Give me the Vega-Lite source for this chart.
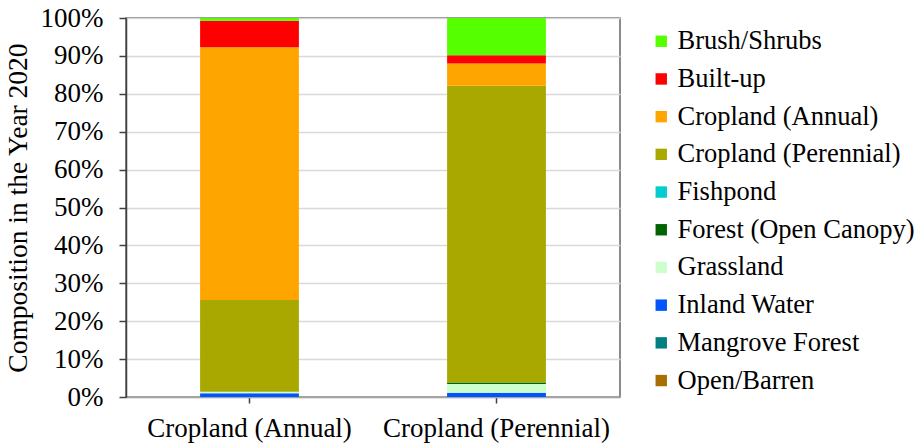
{
  "$schema": "https://vega.github.io/schema/vega-lite/v6.json",
  "autosize": "none",
  "width": 494,
  "height": 379,
  "padding": {"left": 126, "top": 18, "right": 302, "bottom": 48},
  "background": "white",
  "config": {
    "font": "'Liberation Serif', 'Times New Roman', serif",
    "axis": {"labelFont": "'Liberation Serif', 'Times New Roman', serif", "titleFont": "'Liberation Serif', 'Times New Roman', serif"},
    "legend": {"labelFont": "'Liberation Serif', 'Times New Roman', serif"},
    "view": {"stroke": "#666666", "strokeWidth": 1.5}
  },
  "data": {
    "values": [
      {"lu": "Cropland (Annual)", "type": "Inland Water", "pct": 1.0},
      {"lu": "Cropland (Annual)", "type": "Grassland", "pct": 0.4},
      {"lu": "Cropland (Annual)", "type": "Cropland (Perennial)", "pct": 24.2},
      {"lu": "Cropland (Annual)", "type": "Cropland (Annual)", "pct": 66.7},
      {"lu": "Cropland (Annual)", "type": "Built-up", "pct": 7.0},
      {"lu": "Cropland (Annual)", "type": "Brush/Shrubs", "pct": 0.7},
      {"lu": "Cropland (Perennial)", "type": "Inland Water", "pct": 1.1},
      {"lu": "Cropland (Perennial)", "type": "Grassland", "pct": 2.3},
      {"lu": "Cropland (Perennial)", "type": "Forest (Open Canopy)", "pct": 0.4},
      {"lu": "Cropland (Perennial)", "type": "Cropland (Perennial)", "pct": 78.3},
      {"lu": "Cropland (Perennial)", "type": "Cropland (Annual)", "pct": 5.9},
      {"lu": "Cropland (Perennial)", "type": "Built-up", "pct": 2.2},
      {"lu": "Cropland (Perennial)", "type": "Brush/Shrubs", "pct": 9.8}
    ]
  },
  "mark": {"type": "bar", "width": {"band": 0.4}},
  "encoding": {
    "x": {
      "field": "lu", "type": "nominal",
      "scale": {"paddingInner": 0, "paddingOuter": 0},
      "axis": {
        "title": null, "labelAngle": 0, "labelFontSize": 27, "labelColor": "#000000", "labelLimit": 400,
        "labelPadding": 12, "domainColor": "#a6a6a6", "domainWidth": 1.5,
        "tickColor": "#404040", "tickSize": 6, "tickWidth": 1.5
      }
    },
    "y": {
      "field": "pct", "type": "quantitative", "stack": "zero",
      "scale": {"domain": [0, 100]},
      "axis": {
        "title": "Composition in the Year 2020", "titleFontSize": 27.5, "titleFontWeight": "normal",
        "titleColor": "#000000", "titlePadding": 8,
        "values": [0, 10, 20, 30, 40, 50, 60, 70, 80, 90, 100],
        "labelExpr": "datum.value + '%'", "labelFontSize": 27, "labelColor": "#000000",
        "labelPadding": 16, "domainColor": "#404040", "domainWidth": 1.5,
        "tickColor": "#404040", "tickSize": 7, "tickWidth": 1.5,
        "gridColor": "#d9d9d9", "gridWidth": 1.5
      }
    },
    "color": {
      "field": "type", "type": "nominal",
      "scale": {
        "domain": ["Brush/Shrubs", "Built-up", "Cropland (Annual)", "Cropland (Perennial)", "Fishpond", "Forest (Open Canopy)", "Grassland", "Inland Water", "Mangrove Forest", "Open/Barren"],
        "range": ["#55ff00", "#ff0000", "#ffa500", "#a8a800", "#00cdcd", "#006400", "#ccffcc", "#0055ff", "#008080", "#a86e00"]
      },
      "legend": {
        "title": null, "orient": "none", "legendX": 522, "legendY": 10,
        "labelFontSize": 26.5, "labelColor": "#000000", "labelLimit": 400, "symbolType": "square",
        "symbolSize": 130, "symbolStrokeWidth": 0, "rowPadding": 10.7, "labelOffset": 3
      }
    },
    "order": {"field": "type", "sort": "descending"}
  }
}
